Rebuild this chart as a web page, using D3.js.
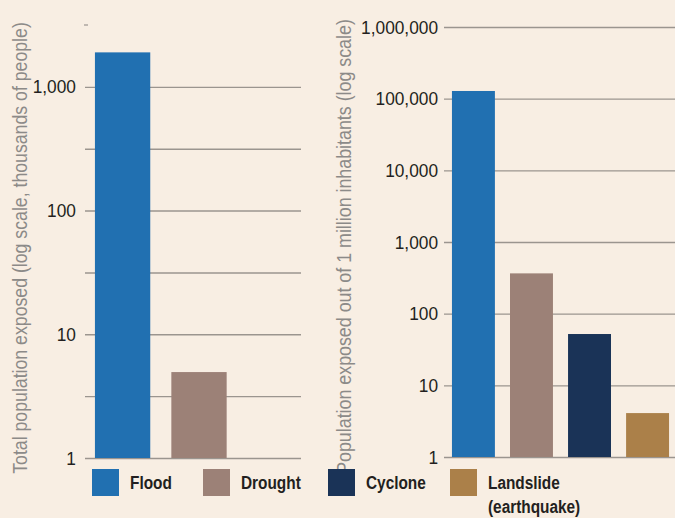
<!DOCTYPE html>
<html>
<head>
<meta charset="utf-8">
<script src="https://cdn.jsdelivr.net/npm/d3@7"></script>
<style>
  html, body { margin: 0; padding: 0; background: #f8eee3; }
  svg { display: block; }
</style>
</head>
<body>
<svg id="chart" width="675" height="518"></svg>
<script>
// ---------- DATA ----------
const hazards = ["Flood", "Drought", "Cyclone", "Landslide"];
const colors = ["#2170b1", "#9c8177", "#1a3357", "#ab8049"];

// Left panel: total population exposed (thousands of people)
const leftCategories = ["Flood", "Drought", "Cyclone"];
const leftValues = [1900, 4.95, null];
const leftTickValues = [1, 3.1623, 10, 31.623, 100, 316.23, 1000];
const leftLabelValues = [1, 10, 100, 1000];
const leftTitle = "Total population exposed (log scale, thousands of people)";

// Right panel: population exposed out of 1 million inhabitants
const rightCategories = ["Flood", "Drought", "Cyclone", "Landslide"];
const rightValues = [128000, 365, 52, 4.1];
const rightTickValues = [1, 10, 100, 1000, 10000, 100000, 1000000];
const rightTitle = "Population exposed out of 1 million inhabitants (log scale)";

const legendLabels = [["Flood"], ["Drought"], ["Cyclone"], ["Landslide", "(earthquake)"]];

// ---------- LAYOUT ----------
const svg = d3.select("#chart");
const fmt = d3.format(",");
const baseFont = "'Liberation Sans', Arial, sans-serif";
const gridColor = "#9b958f";
const textColor = "#231f20";
const titleColor = "#8c8a88";
const colorOf = d3.scaleOrdinal().domain(hazards).range(colors);

function panel(opts) {
  const g = svg.append("g");
  const y = d3.scaleLog().domain(opts.domain).range([opts.bottom, opts.top]);
  const x = d3.scaleBand().domain(opts.categories).range(opts.xRange)
    .paddingInner(opts.padInner).paddingOuter(opts.padOuter);

  // gridlines
  const grid = g.append("g").attr("transform", `translate(${opts.gridLeft},0)`)
    .call(d3.axisRight(y).tickValues(opts.tickValues)
      .tickSize(opts.gridRight - opts.gridLeft).tickFormat(""));
  grid.select(".domain").remove();
  grid.selectAll(".tick line").attr("stroke", gridColor).attr("stroke-width", 1.4);

  // labels (condensed look via horizontal scale)
  const lab = g.append("g").attr("transform", `translate(${opts.gridLeft},0)`)
    .call(d3.axisLeft(y).tickValues(opts.labelValues).tickSize(0).tickPadding(opts.labelPad).tickFormat(fmt));
  lab.select(".domain").remove();
  lab.selectAll(".tick text").attr("font-family", baseFont).attr("font-size", 19)
    .attr("fill", textColor).attr("transform", "scale(0.91,1)");

  // bars
  const data = opts.categories.map((c, i) => ({ c, v: opts.values[i] })).filter(d => d.v != null);
  g.append("g").selectAll("rect").data(data).join("rect")
    .attr("x", d => x(d.c))
    .attr("width", x.bandwidth())
    .attr("y", d => y(d.v))
    .attr("height", d => y(opts.domain[0]) - y(d.v))
    .attr("fill", d => colorOf(d.c));

  // title (condensed to target length)
  const t = g.append("text")
    .attr("text-anchor", "middle")
    .attr("font-family", baseFont)
    .attr("font-size", 19.5)
    .attr("fill", titleColor)
    .text(opts.title);
  const k = opts.titleLen / t.node().getComputedTextLength();
  t.attr("transform", `translate(${opts.titleX},${opts.titleY}) rotate(-90) scale(${k},1)`);
  return { g, y, x };
}

const left = panel({
  domain: [1, Math.pow(10, 3.5)], top: 25, bottom: 458,
  categories: leftCategories, values: leftValues,
  xRange: [85, 313], padInner: 0.276, padOuter: 0.13,
  gridLeft: 85, gridRight: 301,
  tickValues: leftTickValues, labelValues: leftLabelValues, labelPad: 10,
  title: leftTitle, titleX: 27, titleY: 248, titleLen: 452
});
// small tick at top of left axis
left.g.append("line")
  .attr("x1", 84).attr("x2", 88)
  .attr("y1", left.y(Math.pow(10, 3.5))).attr("y2", left.y(Math.pow(10, 3.5)))
  .attr("stroke", gridColor).attr("stroke-width", 1.2);

panel({
  domain: [1, 1000000], top: 27, bottom: 457,
  categories: rightCategories, values: rightValues,
  xRange: [444, 677], padInner: 0.26, padOuter: 0.137,
  gridLeft: 444, gridRight: 675,
  tickValues: rightTickValues, labelValues: rightTickValues, labelPad: 6.6,
  title: rightTitle, titleX: 351, titleY: 246.5, titleLen: 455
});

// ---------- LEGEND ----------
const legendX = [92, 203, 328, 450];
const lg = svg.append("g");
legendLabels.forEach((lines, i) => {
  const it = lg.append("g").attr("transform", `translate(${legendX[i]},469)`);
  it.append("rect").attr("width", 27).attr("height", 27).attr("fill", colorOf(hazards[i]));
  lines.forEach((ln, j) => {
    it.append("text")
      .attr("transform", `translate(38,${20 + j * 24}) scale(0.81,1)`)
      .attr("font-family", baseFont).attr("font-size", 19)
      .attr("font-weight", 700).attr("fill", textColor)
      .text(ln);
  });
});
</script>
</body>
</html>
